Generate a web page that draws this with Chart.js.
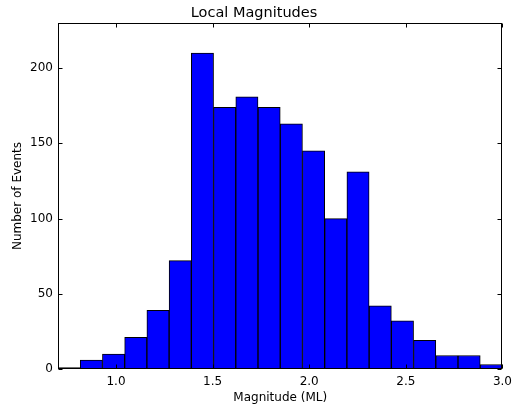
<!DOCTYPE html>
<html>
<head>
<meta charset="utf-8">
<script src="https://cdn.jsdelivr.net/npm/chart.js@4/dist/chart.umd.min.js"></script>
<style>
  html, body { margin: 0; padding: 0; background: #fff; }
</style>
</head>
<body>
<canvas id="magChart" width="518" height="409"></canvas>
<script>
  // histogram bin edges and counts per bin
  const binEdges = [0.700, 0.815, 0.930, 1.045, 1.160, 1.275, 1.390, 1.505, 1.620, 1.735,
                    1.850, 1.965, 2.080, 2.195, 2.310, 2.425, 2.540, 2.655, 2.770, 2.885, 3.000];
  const counts = [1, 6, 10, 21, 39, 72, 210, 174, 181, 174, 163, 145, 100, 131, 42, 32, 19, 9, 9, 3];
  const xTicks = [1.0, 1.5, 2.0, 2.5, 3.0];
  const yTicks = [0, 50, 100, 150, 200];

  const fontFamily = "'DejaVu Sans', sans-serif";

  const bars = counts.map((c, i) => ({ x: (binEdges[i] + binEdges[i + 1]) / 2, y: c }));

  // box around the plot with inward tick marks on every side
  const framePlugin = {
    id: 'frame',
    afterDatasetsDraw(chart) {
      const { ctx, chartArea: a, scales: { x, y } } = chart;
      const left = Math.round(a.left) + 0.5, right = Math.round(a.right) - 0.5;
      const top = Math.round(a.top) + 0.5, bottom = Math.round(a.bottom) - 0.5;
      ctx.save();
      ctx.strokeStyle = '#000';
      ctx.lineWidth = 1;
      ctx.beginPath();
      xTicks.forEach(v => {
        const px = Math.round(x.getPixelForValue(v)) + 0.5;
        ctx.moveTo(px, bottom); ctx.lineTo(px, bottom - 4);
        ctx.moveTo(px, top); ctx.lineTo(px, top + 4);
      });
      yTicks.forEach(v => {
        const py = Math.round(y.getPixelForValue(v)) + 0.5;
        ctx.moveTo(left, py); ctx.lineTo(left + 4, py);
        ctx.moveTo(right, py); ctx.lineTo(right - 4, py);
      });
      ctx.stroke();
      ctx.strokeRect(left, top, right - left, bottom - top);
      ctx.restore();
    }
  };

  new Chart(document.getElementById('magChart'), {
    type: 'bar',
    data: {
      datasets: [{
        data: bars,
        backgroundColor: '#0000ff',
        borderColor: '#000',
        borderWidth: 1,
        borderSkipped: false,
        barPercentage: 1,
        categoryPercentage: 1
      }]
    },
    options: {
      responsive: false,
      animation: false,
      layout: { padding: { left: 4, right: 14, top: 0, bottom: 2 } },
      plugins: {
        legend: { display: false },
        tooltip: { enabled: false },
        title: {
          display: true,
          text: 'Local Magnitudes',
          color: '#000',
          font: { family: fontFamily, size: 14.5, weight: 'normal' },
          padding: { top: 5, bottom: 0.6 }
        }
      },
      scales: {
        x: {
          type: 'linear',
          min: 0.7,
          max: 3.0,
          offset: false,
          grid: { display: false, drawTicks: false, offset: false },
          border: { display: false },
          afterBuildTicks: s => { s.ticks = xTicks.map(v => ({ value: v })); },
          afterFit: s => { s.height = 38; },
          ticks: {
            color: '#000',
            padding: 6,
            maxRotation: 0,
            font: { family: fontFamily, size: 12 },
            callback: v => v.toFixed(1)
          },
          title: {
            display: true,
            text: 'Magnitude (ML)',
            color: '#000',
            font: { family: fontFamily, size: 12 },
            padding: { top: 0, bottom: 2 }
          }
        },
        y: {
          min: 0,
          max: 230,
          grid: { display: false, drawTicks: false },
          border: { display: false },
          afterBuildTicks: s => { s.ticks = yTicks.map(v => ({ value: v })); },
          afterFit: s => { s.width = 54; },
          ticks: {
            color: '#000',
            padding: 5,
            font: { family: fontFamily, size: 12 }
          },
          title: {
            display: true,
            text: 'Number of Events',
            color: '#000',
            font: { family: fontFamily, size: 12 },
            padding: { top: 7, bottom: 0 }
          }
        }
      }
    },
    plugins: [framePlugin]
  });
</script>
</body>
</html>
